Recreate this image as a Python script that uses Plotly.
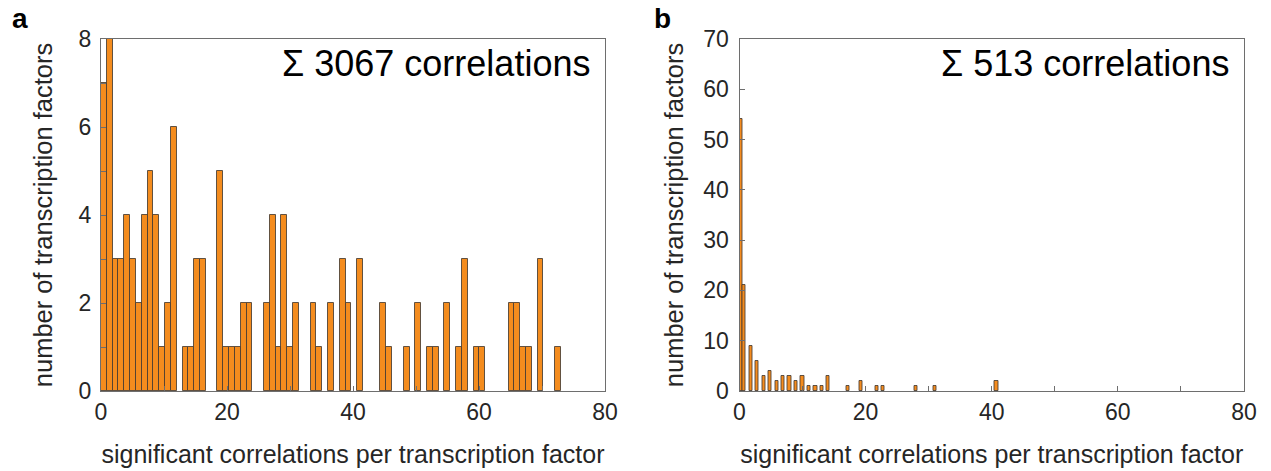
import numpy as np
import plotly.graph_objects as go

# ---------------- data ----------------
# panel a: histogram bin counts (79 bins spanning 0..73)
a_max_value = 73
a_counts = [7, 8, 3, 3, 4, 3, 2, 4, 5, 4, 1, 2, 6, 0, 1, 1, 3, 3, 0, 0,
            5, 1, 1, 1, 2, 2, 0, 0, 2, 4, 1, 4, 1, 2, 0, 0, 2, 1, 0, 2,
            0, 3, 2, 0, 3, 0, 0, 0, 2, 1, 0, 0, 1, 0, 2, 0, 1, 1, 0, 2,
            0, 1, 3, 0, 1, 1, 0, 0, 0, 0, 2, 2, 1, 1, 0, 3, 0, 0, 1]
a_total = "Σ 3067 correlations"

# panel b: histogram bin counts (80 bins spanning 0..41)
b_max_value = 41
b_counts = [54, 21, 0, 9, 0, 6, 0, 3, 0, 4, 0, 2, 0, 3, 0, 3, 0, 2, 0, 3,
            0, 1, 0, 1, 0, 1, 0, 3, 0, 0, 0, 0, 0, 1, 0, 0, 0, 2, 0, 0,
            0, 0, 1, 0, 1, 0, 0, 0, 0, 0, 0, 0, 0, 0, 1, 0, 0, 0, 0, 0,
            1, 0, 0, 0, 0, 0, 0, 0, 0, 0, 0, 0, 0, 0, 0, 0, 0, 0, 0, 2]
b_total = "Σ 513 correlations"

x_label = "significant correlations per transcription factor"
y_label = "number of transcription factors"

# ---------------- style ----------------
FONT = "Liberation Sans, Arial, sans-serif"
BAR_FILL = "#F48C1E"
BAR_LINE = "rgba(70,60,50,0.85)"
AX_COL = "#6e6e6e"
TXT = "#262626"


def bins(counts, vmax):
    n = len(counts)
    w = vmax / n
    centers = [(i + 0.5) * w for i in range(n)]
    return centers, w


fig = go.Figure()
for counts, vmax, xa, ya in [(a_counts, a_max_value, "x", "y"),
                             (b_counts, b_max_value, "x2", "y2")]:
    cx, w = bins(counts, vmax)
    yvals = [c if c > 0 else None for c in counts]  # empty bins draw nothing
    fig.add_trace(go.Bar(x=cx, y=yvals, width=w, xaxis=xa, yaxis=ya,
                         marker=dict(color=BAR_FILL,
                                     line=dict(color=BAR_LINE, width=1)),
                         showlegend=False, hoverinfo="x+y"))

W, H = 1271, 471
ydom = [(H - 391) / H, (H - 39) / H]
common_x = dict(range=[0, 80], dtick=20, tick0=0, ticks="inside", ticklen=5,
                tickcolor=AX_COL, showline=True, linecolor=AX_COL, linewidth=1,
                mirror=True, showgrid=False, zeroline=False, automargin=False,
                minor=dict(dtick=10, ticks="inside", ticklen=5, tickcolor=AX_COL),
                tickfont=dict(size=23, color=TXT, family=FONT),
                title=dict(text=x_label, font=dict(size=25, color=TXT, family=FONT),
                           standoff=21))
common_y = dict(ticks="inside", ticklen=5, tickcolor=AX_COL, showline=True,
                linecolor=AX_COL, linewidth=1, mirror=True, showgrid=False,
                zeroline=False, domain=ydom, automargin=False,
                tickfont=dict(size=23, color=TXT, family=FONT))

fig.update_layout(
    width=W, height=H,
    margin=dict(l=0, r=0, t=0, b=0, autoexpand=False),
    paper_bgcolor="white", plot_bgcolor="white",
    bargap=0,
    font=dict(family=FONT, color=TXT),
    xaxis=dict(common_x, domain=[101 / W, 605 / W], anchor="y"),
    yaxis=dict(common_y, range=[0, 8], dtick=2, ticklabelstandoff=4,
               minor=dict(dtick=1, ticks="inside", ticklen=5, tickcolor=AX_COL),
               title=dict(text=y_label, font=dict(size=25.5, color=TXT, family=FONT),
                          standoff=18),
               anchor="x"),
    xaxis2=dict(common_x, domain=[739.5 / W, 1244 / W], anchor="y2"),
    yaxis2=dict(common_y, range=[0, 70], dtick=10, ticklabelstandoff=5,
                title=dict(text=y_label, font=dict(size=25.5, color=TXT, family=FONT),
                           standoff=12),
                anchor="x2"),
    annotations=[
        dict(text=a_total, xref="x domain", yref="y domain", x=0.975, y=0.995,
             xanchor="right", yanchor="top", showarrow=False,
             font=dict(size=36, color="black", family=FONT)),
        dict(text=b_total, xref="x2 domain", yref="y2 domain", x=0.975, y=0.995,
             xanchor="right", yanchor="top", showarrow=False,
             font=dict(size=36, color="black", family=FONT)),
        dict(text="<b>a</b>", xref="paper", yref="paper", x=10 / W, y=1 - 1 / H,
             xanchor="left", yanchor="top", showarrow=False,
             font=dict(size=28, color="black", family=FONT)),
        dict(text="<b>b</b>", xref="paper", yref="paper", x=652 / W, y=1 - 1 / H,
             xanchor="left", yanchor="top", showarrow=False,
             font=dict(size=28, color="black", family=FONT)),
    ],
)

fig.write_html("out.html")
